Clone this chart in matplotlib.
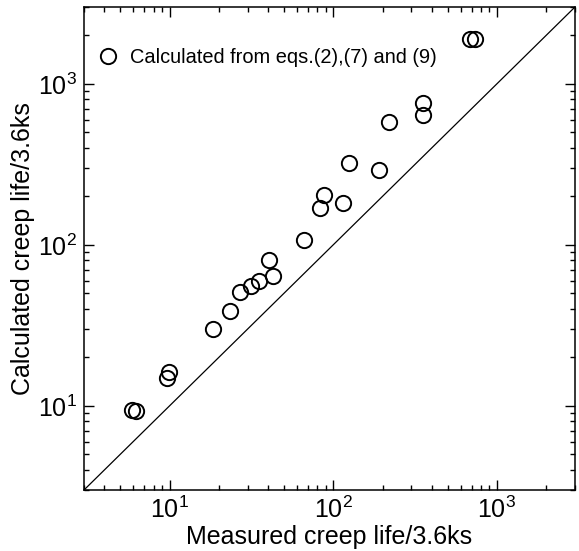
import numpy as np
import matplotlib
matplotlib.use("Agg")
import matplotlib.pyplot as plt
from matplotlib.ticker import LogLocator, LogFormatterMathtext, NullFormatter

plt.rcParams['font.family'] = ['Liberation Sans', 'DejaVu Sans']
plt.rcParams['mathtext.fontset'] = 'custom'
plt.rcParams['mathtext.rm'] = 'Liberation Sans'
plt.rcParams['mathtext.it'] = 'Liberation Sans'
plt.rcParams['mathtext.default'] = 'regular'

# measured vs calculated creep life (units of 3.6 ks)
measured = [5.9, 6.2, 9.9, 9.6, 18.4, 23.5, 26.8, 31.5, 35.3, 40.6, 42.9,
            66.5, 83.5, 87.9, 115, 125, 191, 220, 353, 353, 687, 736]
calculated = [9.4, 9.35, 16.2, 14.9, 30.2, 38.9, 51.0, 55.3, 59.7, 80.4, 64.3,
              106.6, 169, 203, 181, 322, 290, 582, 765, 637, 1888, 1888]

legend_label = "Calculated from eqs.(2),(7) and (9)"
lims = [3, 3000]

fig = plt.figure(figsize=(5.79, 5.51), dpi=100)
ax = fig.add_axes([84 / 579, 61 / 551, 491 / 579, 483 / 551])

ax.plot(lims, lims, color='black', lw=0.9)
ax.plot(measured, calculated, 'o', mfc='none', mec='black', ms=11, mew=1.4,
        label=legend_label)

ax.set_xscale('log')
ax.set_yscale('log')
ax.set_xlim(lims)
ax.set_ylim(lims)

for axis in (ax.xaxis, ax.yaxis):
    axis.set_major_locator(LogLocator(base=10, numticks=10))
    axis.set_minor_locator(LogLocator(base=10, subs=np.arange(2, 10), numticks=10))
    axis.set_major_formatter(LogFormatterMathtext())
    axis.set_minor_formatter(NullFormatter())

ax.tick_params(which='both', direction='in', top=True, right=True, width=1)
ax.tick_params(which='major', length=7.5, labelsize=18, pad=5)
ax.tick_params(which='minor', length=3.5)
for sp in ax.spines.values():
    sp.set_linewidth(1.1)

ax.set_xlabel("Measured creep life/3.6ks", fontsize=18, labelpad=1)
ax.set_ylabel("Calculated creep life/3.6ks", fontsize=18, labelpad=2)

ax.legend(loc='center left', frameon=False, fontsize=14.4, handletextpad=0.5,
          handlelength=1.2, borderaxespad=0, borderpad=0,
          bbox_to_anchor=(0.0244, 0.896))

fig.savefig("out.png", dpi=100)
